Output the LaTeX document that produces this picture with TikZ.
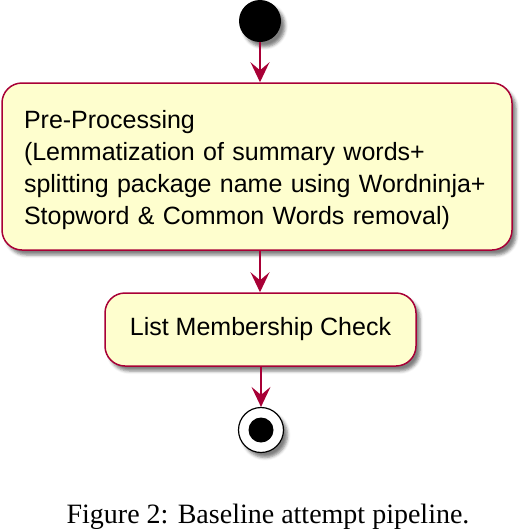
\documentclass[tikz,border=0pt]{standalone}
\usepackage{fontspec}
\setmainfont{Liberation Sans}
\newfontfamily\captionfont{Liberation Serif}
\usetikzlibrary{arrows.meta, positioning, shadows.blur}
\definecolor{umlred}{HTML}{A80036}
\definecolor{umlyellow}{HTML}{FEFECE}

\begin{document}
\begin{tikzpicture}[x=1pt, y=1pt,
  umlshadow/.style={blur shadow={shadow xshift=4pt, shadow yshift=-5pt, shadow blur radius=3pt, shadow opacity=50}},
  activity/.style={rectangle, rounded corners=20pt, draw=umlred, line width=1.5pt, fill=umlyellow, umlshadow, font=\fontsize{25}{32}\selectfont},
  flow/.style={-{Stealth[length=20pt, width=19pt, inset=8pt]}, draw=umlred, line width=1.2pt}]
\useasboundingbox (0,0) rectangle (530,-528);
% Start and end
\node[circle, fill=black, minimum size=42pt, inner sep=0pt, umlshadow] (start) at (260,-21) {};
\node[circle, draw=black, line width=1.2pt, fill=white, minimum size=45pt, inner sep=0pt, umlshadow] (stop) at (261,-430) {};
\node[circle, fill=black, minimum size=25pt, inner sep=0pt] (stopdot) at (stop.center) {};

% Boxes
\node[activity, minimum width=510pt, minimum height=167pt, text width=466pt, inner xsep=22pt, align=left] (preproc) at (257,-166.5) {\rule{0pt}{26pt}Pre-Processing\\(Lemmatization of summary words+\\splitting package name using Wordninja+\\Stopword \& Common Words removal)};
\node[activity, minimum width=311pt, minimum height=73pt] (check) at (260.5,-329.5) {List Membership Check};

% Arrows
\draw[flow] (start) -- (start |- preproc.north);
\draw[flow] (start |- preproc.south) -- (start |- check.north);
\draw[flow] (check.south -| stop) -- (stop.north);

% Caption
\node[font=\captionfont\fontsize{28}{30}\selectfont, anchor=base] (caption) at (268,-523) {Figure 2: Baseline attempt pipeline.};
\end{tikzpicture}
\end{document}
